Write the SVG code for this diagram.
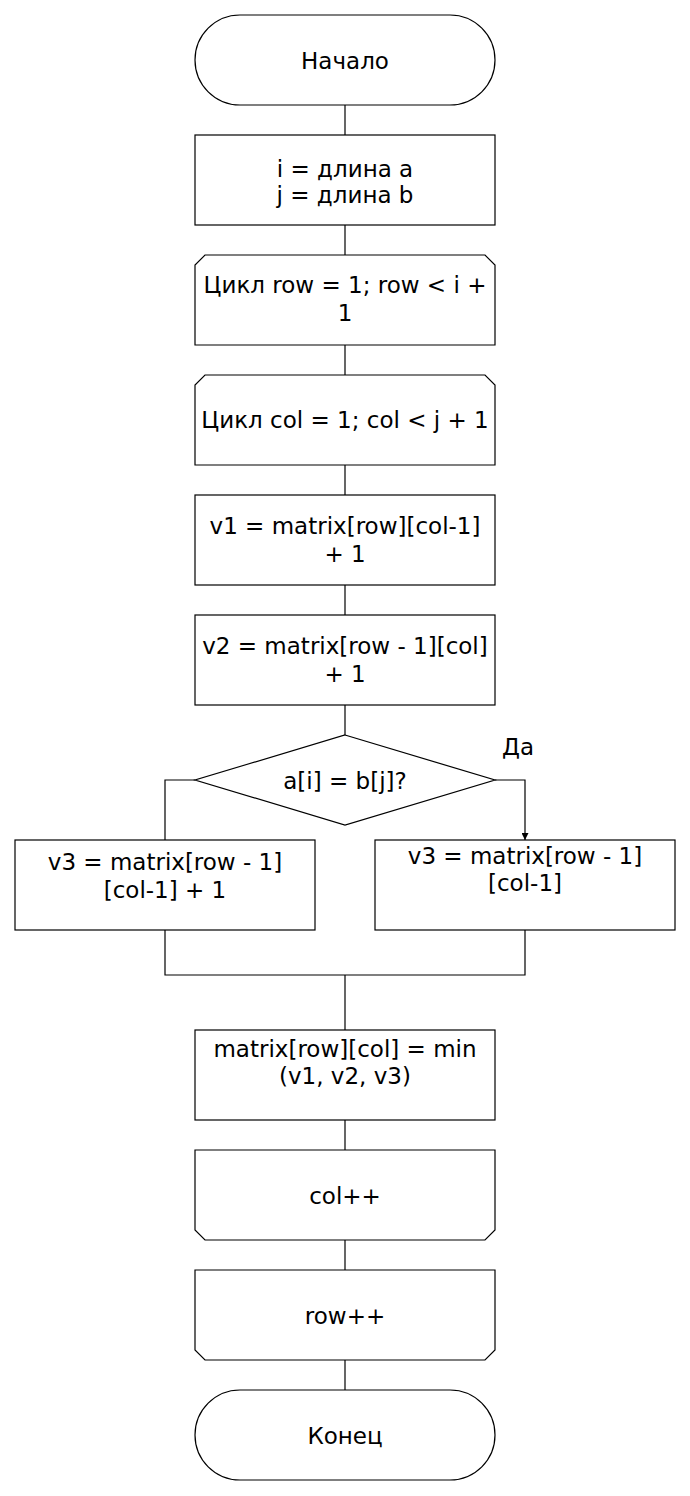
<svg xmlns="http://www.w3.org/2000/svg" width="690" height="1496" viewBox="0 0 690 1496">
  <defs>
    <marker id="arrow" viewBox="0 0 10 10" refX="10" refY="5" markerWidth="8" markerHeight="7" markerUnits="userSpaceOnUse" orient="auto">
      <path d="M0,0 L10,5 L0,10 Z" fill="#000"/>
    </marker>
    <style>
      .shape { fill: #fff; stroke: #000; stroke-width: 1.2; }
      .line { fill: none; stroke: #000; stroke-width: 1.2; }
      text { font-family: "DejaVu Sans", "Liberation Sans", sans-serif; font-size: 23px; fill: #000; text-anchor: middle; }
    </style>
  </defs>
  <rect width="690" height="1496" fill="#fff"/>

  <!-- connectors -->
  <g id="connectors">
    <line class="line" x1="345" y1="105" x2="345" y2="135"/>
    <line class="line" x1="345" y1="225" x2="345" y2="255"/>
    <line class="line" x1="345" y1="345" x2="345" y2="375"/>
    <line class="line" x1="345" y1="465" x2="345" y2="495"/>
    <line class="line" x1="345" y1="585" x2="345" y2="615"/>
    <line class="line" x1="345" y1="705" x2="345" y2="735"/>
    <polyline class="line" points="195,780 165,780 165,840"/>
    <polyline class="line" points="495,780 525,780 525,840" marker-end="url(#arrow)"/>
    <polyline class="line" points="165,930 165,975 525,975 525,930"/>
    <line class="line" x1="345" y1="975" x2="345" y2="1030"/>
    <line class="line" x1="345" y1="1120" x2="345" y2="1150"/>
    <line class="line" x1="345" y1="1240" x2="345" y2="1270"/>
    <line class="line" x1="345" y1="1360" x2="345" y2="1390"/>
    <text x="518" y="755">Да</text>
  </g>

  <g id="start">
    <rect class="shape" x="195" y="15" width="300" height="90" rx="45" ry="45"/>
    <text x="345" y="69">Начало</text>
  </g>

  <g id="init">
    <rect class="shape" x="195" y="135" width="300" height="90"/>
    <text x="345" y="177">i = длина a</text>
    <text x="345" y="203">j = длина b</text>
  </g>

  <g id="loop-row">
    <path class="shape" d="M205,255 H485 L495,265 V345 H195 V265 Z"/>
    <text x="345" y="293">Цикл row = 1; row &lt; i +</text>
    <text x="345" y="321">1</text>
  </g>

  <g id="loop-col">
    <path class="shape" d="M205,375 H485 L495,385 V465 H195 V385 Z"/>
    <text x="345" y="428">Цикл col = 1; col &lt; j + 1</text>
  </g>

  <g id="v1">
    <rect class="shape" x="195" y="495" width="300" height="90"/>
    <text x="345" y="534">v1 = matrix[row][col-1]</text>
    <text x="345" y="562">+ 1</text>
  </g>

  <g id="v2">
    <rect class="shape" x="195" y="615" width="300" height="90"/>
    <text x="345" y="654">v2 = matrix[row - 1][col]</text>
    <text x="345" y="682">+ 1</text>
  </g>

  <g id="cond">
    <path class="shape" d="M345,735 L495,780 L345,825 L195,780 Z"/>
    <text x="345" y="789">a[i] = b[j]?</text>
  </g>

  <g id="v3-no">
    <rect class="shape" x="15" y="840" width="300" height="90"/>
    <text x="165" y="870">v3 = matrix[row - 1]</text>
    <text x="165" y="898">[col-1] + 1</text>
  </g>

  <g id="v3-yes">
    <rect class="shape" x="375" y="840" width="300" height="90"/>
    <text x="525" y="864">v3 = matrix[row - 1]</text>
    <text x="525" y="891">[col-1]</text>
  </g>

  <g id="assign">
    <rect class="shape" x="195" y="1030" width="300" height="90"/>
    <text x="345" y="1057">matrix[row][col] = min</text>
    <text x="345" y="1084">(v1, v2, v3)</text>
  </g>

  <g id="col-end">
    <path class="shape" d="M195,1150 H495 V1230 L485,1240 H205 L195,1230 Z"/>
    <text x="345" y="1204">col++</text>
  </g>

  <g id="row-end">
    <path class="shape" d="M195,1270 H495 V1350 L485,1360 H205 L195,1350 Z"/>
    <text x="345" y="1324">row++</text>
  </g>

  <g id="end">
    <rect class="shape" x="195" y="1390" width="300" height="90" rx="45" ry="45"/>
    <text x="345" y="1444">Конец</text>
  </g>
</svg>
